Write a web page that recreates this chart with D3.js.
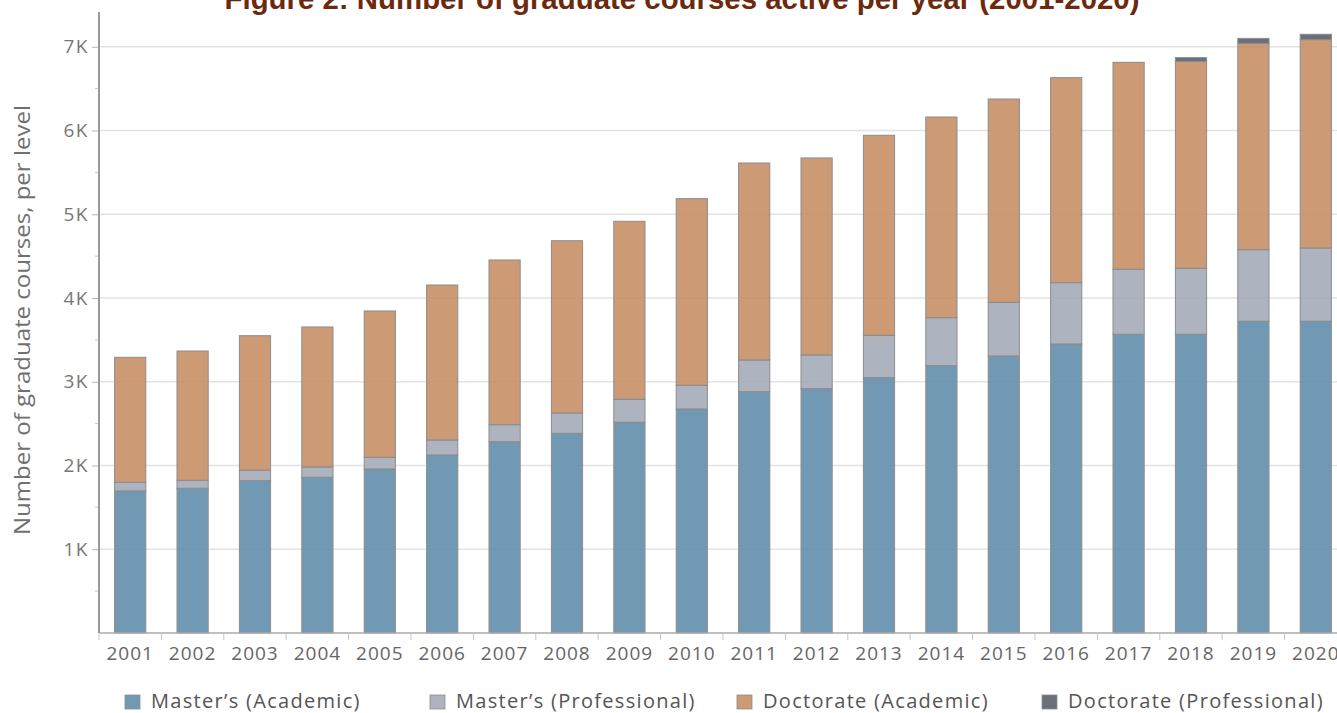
<!DOCTYPE html>
<html lang="en">
<head>
  <meta charset="UTF-8">
  <title>Graduate courses per year</title>
  <script src="https://d3js.org/d3.v7.min.js"></script>
  <style>
    body { margin: 0; background: #fff; overflow: hidden; }
    svg { display: block; }
  </style>
</head>
<body>
  <div id="chart"></div>

  <script>
    // Data
    const years = ["2001","2002","2003","2004","2005","2006","2007","2008","2009","2010",
                   "2011","2012","2013","2014","2015","2016","2017","2018","2019","2020"];
    const mastersAcademic     = [1696,1728,1819,1859,1958,2125,2284,2384,2516,2675,2881,2917,3049,3192,3307,3451,3567,3567,3722,3722];
    const mastersProfessional = [103,95,124,123,140,180,203,243,274,283,379,402,505,573,641,732,776,788,855,875];
    const doctorateAcademic   = [1493,1544,1607,1672,1747,1850,1967,2057,2126,2228,2352,2353,2389,2396,2428,2448,2471,2471,2464,2488];
    const doctorateProfessional = [0,0,0,0,0,0,0,0,0,0,0,0,0,0,0,0,0,44,59,64];

    const seriesNames = ["Master\u2019s (Academic)", "Master\u2019s (Professional)", "Doctorate (Academic)", "Doctorate (Professional)"];
    const seriesKeys = ["ma", "mp", "da", "dp"];
    const colors = ["#638eac", "#a4abb8", "#c68f66", "#5a606a"];
    const yTicks = [1000, 2000, 3000, 4000, 5000, 6000, 7000];

    const rows = years.map((y, i) => ({
      year: y,
      ma: mastersAcademic[i],
      mp: mastersProfessional[i],
      da: doctorateAcademic[i],
      dp: doctorateProfessional[i]
    }));

    const width = 1337;
    const height = 713;
    const plotLeft = 99, plotTop = 12, plotBottom = 633;
    const font = "'Open Sans', sans-serif";

    const svg = d3.select("#chart").append("svg")
        .attr("width", width)
        .attr("height", height);

    // scales -- plot runs past the right edge, as in the source image
    const x = d3.scaleBand()
        .domain(years)
        .range([plotLeft, plotLeft + 20 * 62.4])
        .paddingInner(0.5)
        .paddingOuter(0.25);

    const y = d3.scaleLinear()
        .domain([0, 7000])
        .range([plotBottom, plotBottom - 7 * 83.75]);

    // gridlines
    svg.append("g")
      .selectAll("line")
      .data(yTicks)
      .join("line")
        .attr("x1", plotLeft)
        .attr("x2", width)
        .attr("y1", d => y(d))
        .attr("y2", d => y(d))
        .attr("stroke", "#e3e3e3")
        .attr("stroke-width", 1.5);

    // stacked bars
    const stacked = d3.stack().keys(seriesKeys)(rows);

    svg.append("g")
      .selectAll("g")
      .data(stacked)
      .join("g")
        .attr("fill", (d, i) => colors[i])
        .attr("fill-opacity", 0.9)
      .selectAll("rect")
      .data(d => d.filter(s => s[1] - s[0] > 0))
      .join("rect")
        .attr("x", d => x(d.data.year))
        .attr("width", x.bandwidth())
        .attr("y", d => y(d[1]))
        .attr("height", d => y(d[0]) - y(d[1]))
        .attr("stroke", "#8c8c8c")
        .attr("stroke-width", 1);

    // y axis
    const yAxis = svg.append("g")
        .attr("transform", `translate(${plotLeft},0)`)
        .call(d3.axisLeft(y).tickValues(yTicks).tickSize(7).tickPadding(3)
          .tickFormat(d => (d / 1000) + "K"));
    yAxis.select(".domain").remove();
    yAxis.selectAll(".tick line").attr("stroke", "#b5b5b5");
    yAxis.selectAll("text")
        .attr("font-family", font)
        .attr("font-size", 19)
        .attr("letter-spacing", 1.5)
        .attr("fill", "#777");

    // minor ticks at the half thousands
    svg.append("g")
      .selectAll("line")
      .data(d3.range(500, 7000, 1000))
      .join("line")
        .attr("x1", plotLeft - 4)
        .attr("x2", plotLeft)
        .attr("y1", d => y(d))
        .attr("y2", d => y(d))
        .attr("stroke", "#c5c5c5");

    svg.append("line")
        .attr("x1", plotLeft).attr("x2", plotLeft)
        .attr("y1", plotTop).attr("y2", plotBottom)
        .attr("stroke", "#999")
        .attr("stroke-width", 2);

    // x axis
    svg.append("line")
        .attr("x1", plotLeft).attr("x2", width)
        .attr("y1", plotBottom).attr("y2", plotBottom)
        .attr("stroke", "#aaa")
        .attr("stroke-width", 1.5);

    svg.append("g")
      .selectAll("line")
      .data(years)
      .join("line")
        .attr("x1", d => x(d) - x.step() * 0.25)
        .attr("x2", d => x(d) - x.step() * 0.25)
        .attr("y1", plotBottom)
        .attr("y2", plotBottom + 7)
        .attr("stroke", "#c5c5c5");

    svg.append("g")
      .selectAll("text")
      .data(years)
      .join("text")
        .attr("x", d => x(d) + x.bandwidth() / 2)
        .attr("y", 660)
        .attr("text-anchor", "middle")
        .attr("font-family", font)
        .attr("font-size", 19)
        .attr("letter-spacing", 1)
        .attr("fill", "#666")
        .text(d => d);

    // y axis title
    svg.append("text")
        .attr("transform", "translate(30,320) rotate(-90)")
        .attr("text-anchor", "middle")
        .attr("font-family", font)
        .attr("font-size", 22)
        .attr("textLength", 430)
        .attr("lengthAdjust", "spacingAndGlyphs")
        .attr("fill", "#707070")
        .text("Number of graduate courses, per level");

    // title, clipped at the top like the source
    svg.append("text")
        .attr("x", 682)
        .attr("y", 9)
        .attr("text-anchor", "middle")
        .attr("font-family", "'Liberation Sans Narrow', 'Liberation Sans', Arial, sans-serif")
        .attr("font-weight", "bold")
        .attr("font-size", 30)
        .attr("textLength", 915)
        .attr("lengthAdjust", "spacingAndGlyphs")
        .attr("fill", "#6b2a0e")
        .text("Figure 2: Number of graduate courses active per year (2001-2020)");

    // legend
    const legendX = [125, 430, 737, 1042];
    const legend = svg.append("g")
      .selectAll("g")
      .data(seriesNames)
      .join("g")
        .attr("transform", (d, i) => `translate(${legendX[i]},695)`);

    legend.append("rect")
        .attr("width", 15)
        .attr("height", 14)
        .attr("fill", (d, i) => colors[i])
        .attr("fill-opacity", 0.9)
        .attr("stroke", "#8c8c8c")
        .attr("stroke-width", 0.8);

    legend.append("text")
        .attr("x", 26)
        .attr("y", 13)
        .attr("font-family", font)
        .attr("font-size", 20)
        .attr("letter-spacing", 1.3)
        .attr("fill", "#555")
        .text(d => d);
  </script>
</body>
</html>
